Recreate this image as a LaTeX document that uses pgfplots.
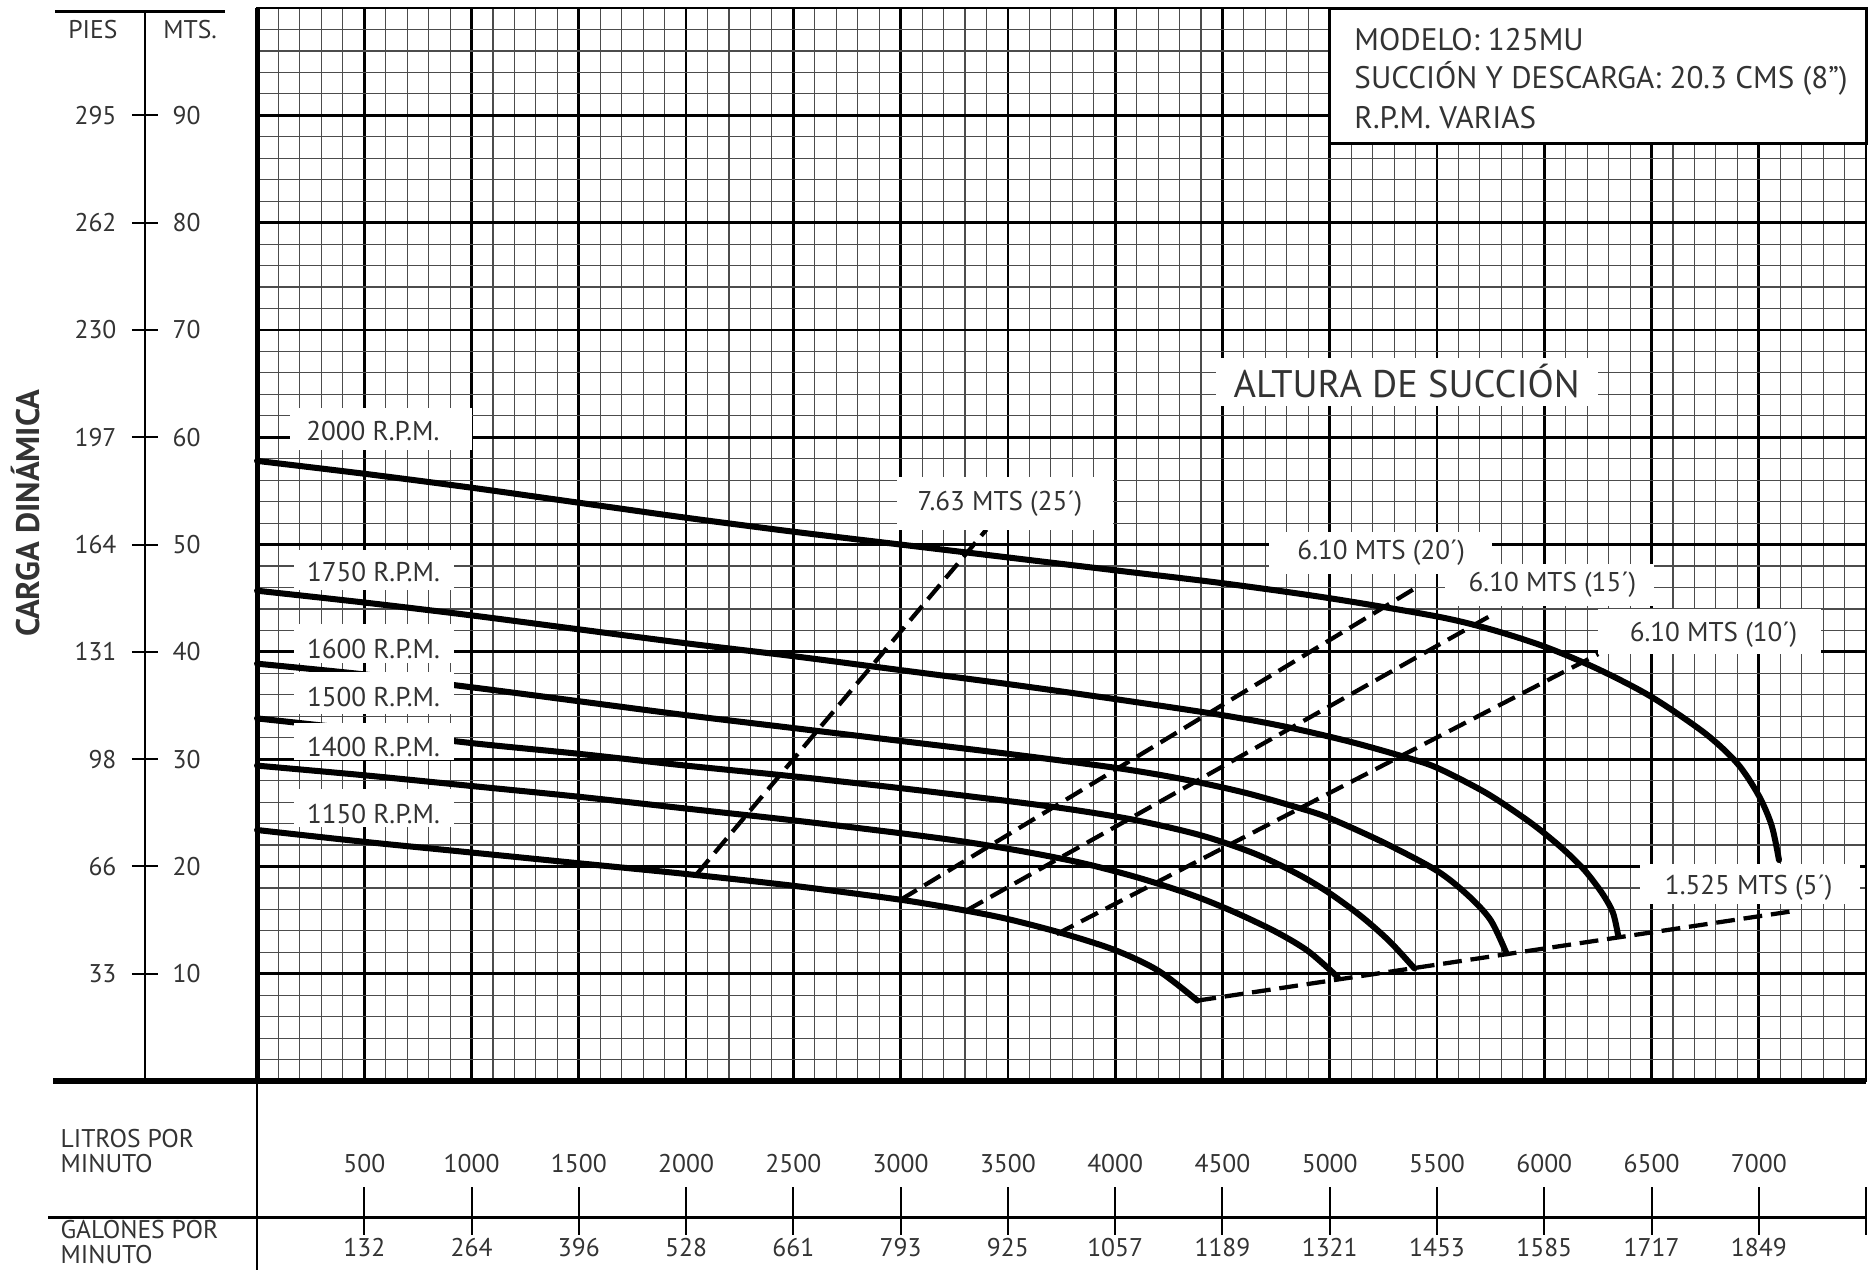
\documentclass[border=0pt]{standalone}
\usepackage{fontspec}
\setmainfont{PT Sans}
\usepackage{pgfplots}
\pgfplotsset{compat=1.18}

\definecolor{txt}{HTML}{333333}
\newcommand\lbl{\fontsize{10.2}{11}\selectfont}
\newcommand\rpm{\fontsize{10.8}{11}\selectfont}
\newcommand\dos{\fontsize{10.2}{10.2}\selectfont}
\tikzset{
  curva/.style={black, line width=2.4pt, smooth, tension=0.5, line cap=round, line join=round},
  succion/.style={black, line width=1.7pt, dash pattern=on 7.5pt off 3.5pt},
  caja/.style={fill=white, draw=none},
  rot/.style={text=txt, font=\lbl, inner sep=0pt},
}

\begin{document}
\begin{tikzpicture}
\begin{axis}[
  width=22.526cm, height=15.022cm, scale only axis,
  xmin=0, xmax=7500, ymin=0, ymax=100,
  xtick={0,500,...,7500}, ytick={0,10,...,100},
  minor x tick num=4, minor y tick num=4,
  xticklabels={}, yticklabels={},
  major tick length=0pt, minor tick length=0pt,
  grid=both,
  major grid style={black, line width=1.1pt},
  minor grid style={black!70, line width=0.45pt},
  axis line style={black, line width=1.1pt},
  clip=false,
]

% curvas de RPM (L/min, m)
\addplot[curva] coordinates {
  (0,57.8) (500,56.6) (1000,55.3) (1500,53.9) (2000,52.5) (2500,51.2)
  (3000,50.0) (3500,48.8) (4000,47.6) (4500,46.4) (5000,45.0) (5500,43.3)
  (5750,42.1) (6000,40.5) (6250,38.4) (6500,35.8) (6750,32.4) (6900,29.6)
  (7000,26.6) (7060,23.8) (7094,20.6)};
\addplot[curva] coordinates {
  (0,45.7) (500,44.6) (1000,43.4) (1500,42.1) (2000,40.8) (2500,39.6)
  (3000,38.3) (3500,37.0) (4000,35.6) (4500,34.1) (4800,33.0) (5100,31.6)
  (5350,30.2) (5500,29.2) (5725,26.9) (5900,24.6) (6000,23.1) (6100,21.4)
  (6190,19.6) (6270,17.5) (6320,15.7) (6344,13.6)};
\addplot[curva] coordinates {
  (0,38.9) (500,37.9) (1000,36.7) (1500,35.4) (2000,34.1) (2500,32.9)
  (3000,31.7) (3500,30.5) (4000,29.2) (4300,28.2) (4600,26.9) (4866,25.4)
  (5000,24.5) (5255,22.2) (5500,19.6) (5645,17.3) (5750,15.0) (5824,11.9)};
\addplot[curva] coordinates {
  (0,33.8) (500,32.7) (1000,31.5) (1500,30.5) (2000,29.4) (2500,28.4)
  (3000,27.3) (3500,26.1) (3800,25.3) (4100,24.3) (4400,22.9) (4650,21.2)
  (4850,19.3) (5000,17.5) (5150,15.3) (5280,13.0) (5395,10.5)};
\addplot[curva] coordinates {
  (0,29.4) (500,28.5) (1000,27.5) (1500,26.5) (2000,25.4) (2500,24.3)
  (3000,23.1) (3300,22.3) (3600,21.3) (3850,20.3) (4100,19.0) (4350,17.4)
  (4550,15.8) (4750,13.9) (4900,12.1) (5037,9.7)};
\addplot[curva] coordinates {
  (0,23.4) (500,22.3) (1000,21.3) (1500,20.3) (2000,19.3) (2500,18.2)
  (3000,16.9) (3300,15.9) (3500,15.1) (3750,13.8) (4000,12.2) (4200,10.3)
  (4383,7.5)};

% alturas de succion
\addplot[succion] coordinates {(2050,19.3) (3400,51.4)};
\addplot[succion] coordinates {(3000,16.9) (5396,45.9)};
\addplot[succion] coordinates {(3307,15.9) (5770,43.6)};
\addplot[succion] coordinates {(3727,13.7) (6252,39.8)};
\addplot[succion] coordinates {(4383,7.5) (7180,15.9)};

% etiquetas de RPM
\fill[caja] (axis cs:154,58.8) rectangle (axis cs:1002,62.7);
\fill[caja] (axis cs:171,45.8) rectangle (axis cs:916,49.5);
\fill[caja] (axis cs:171,39.0) rectangle (axis cs:916,42.6);
\fill[caja] (axis cs:171,34.2) rectangle (axis cs:916,38.1);
\fill[caja] (axis cs:171,29.9) rectangle (axis cs:916,33.4);
\fill[caja] (axis cs:171,23.7) rectangle (axis cs:916,27.2);
\node[rot, font=\rpm] at (axis cs:540,60.6) {2000 R.P.M.};
\node[rot, font=\rpm] at (axis cs:543,47.4) {1750 R.P.M.};
\node[rot, font=\rpm] at (axis cs:543,40.3) {1600 R.P.M.};
\node[rot, font=\rpm] at (axis cs:543,35.8) {1500 R.P.M.};
\node[rot, font=\rpm] at (axis cs:543,31.1) {1400 R.P.M.};
\node[rot, font=\rpm] at (axis cs:543,24.9) {1150 R.P.M.};

% etiquetas de succion
\fill[caja] (axis cs:2985,51.4) rectangle (axis cs:3990,56.3);
\fill[caja] (axis cs:4718,47.3) rectangle (axis cs:5754,51.2);
\fill[caja] (axis cs:5537,44.3) rectangle (axis cs:6511,48.2);
\fill[caja] (axis cs:6250,39.8) rectangle (axis cs:7290,44.0);
\fill[caja] (axis cs:6445,16.5) rectangle (axis cs:7470,20.2);
\fill[caja] (axis cs:4469,62.9) rectangle (axis cs:6249,67.4);
\node[rot, font=\rpm] at (axis cs:3463,53.8) {7.63 MTS (25´)};
\node[rot, font=\rpm] at (axis cs:5240,49.2) {6.10 MTS (20´)};
\node[rot, font=\rpm] at (axis cs:6038,46.3) {6.10 MTS (15´)};
\node[rot, font=\rpm] at (axis cs:6789,41.6) {6.10 MTS (10´)};
\node[rot, font=\rpm] at (axis cs:6953,18.0) {1.525 MTS (5´)};
\node[rot, font=\fontsize{15.3}{16}\selectfont] at (axis cs:5359,65.2) {ALTURA DE SUCCIÓN};

% recuadro del modelo
\filldraw[fill=white, draw=black, line width=1.2pt] (axis cs:5000,87.4) rectangle (axis cs:7500,100);
\node[rot, anchor=west, font=\fontsize{12.4}{13}\selectfont] at (axis cs:5113,97.1) {MODELO: 125MU};
\node[rot, anchor=west, font=\fontsize{12.4}{13}\selectfont] at (axis cs:5113,93.4) {SUCCIÓN Y DESCARGA: 20.3 CMS (8”)};
\node[rot, anchor=west, font=\fontsize{12.4}{13}\selectfont] at (axis cs:5113,89.8) {R.P.M. VARIAS};

% ejes gruesos
\draw[line width=2.2pt] (axis cs:-950,0) -- (axis cs:7500,0);
\draw[line width=2pt] (axis cs:0,0) -- (axis cs:0,100);

% escala vertical PIES / MTS
\draw[line width=1.2pt] (axis cs:-941,99.7) -- (axis cs:-149,99.7);
\draw[line width=0.8pt] (axis cs:-522,99.7) -- (axis cs:-522,0);
\pgfplotsinvokeforeach{10,20,...,90}{
  \draw[line width=0.8pt] (axis cs:-583,#1) -- (axis cs:-461,#1);
  \node[rot, anchor=west] at (axis cs:-396,#1) {#1};
}
\node[rot] at (axis cs:-765,98.0) {PIES};
\node[rot] at (axis cs:-312,98.0) {MTS.};
\node[rot, anchor=east] at (axis cs:-653,10) {33};
\node[rot, anchor=east] at (axis cs:-653,20) {66};
\node[rot, anchor=east] at (axis cs:-653,30) {98};
\node[rot, anchor=east] at (axis cs:-653,40) {131};
\node[rot, anchor=east] at (axis cs:-653,50) {164};
\node[rot, anchor=east] at (axis cs:-653,60) {197};
\node[rot, anchor=east] at (axis cs:-653,70) {230};
\node[rot, anchor=east] at (axis cs:-653,80) {262};
\node[rot, anchor=east] at (axis cs:-653,90) {295};
\node[rot, rotate=90, font=\bfseries\fontsize{13}{14}\selectfont] at (axis cs:-1077,52.9) {CARGA DINÁMICA};

% escala horizontal LITROS / GALONES
\draw[line width=0.8pt] (axis cs:0,0) -- (axis cs:0,-17.6);
\draw[line width=1pt] (axis cs:-974,-12.7) -- (axis cs:7500,-12.7);
\pgfplotsinvokeforeach{500,1000,...,7500}{
  \draw[line width=0.8pt] (axis cs:#1,-9.9) -- (axis cs:#1,-14.35);
}
\pgfplotsinvokeforeach{500,1000,...,7000}{
  \node[rot] at (axis cs:#1,-7.64) {#1};
}
\node[rot] at (axis cs:500,-15.5) {132};
\node[rot] at (axis cs:1000,-15.5) {264};
\node[rot] at (axis cs:1500,-15.5) {396};
\node[rot] at (axis cs:2000,-15.5) {528};
\node[rot] at (axis cs:2500,-15.5) {661};
\node[rot] at (axis cs:3000,-15.5) {793};
\node[rot] at (axis cs:3500,-15.5) {925};
\node[rot] at (axis cs:4000,-15.5) {1057};
\node[rot] at (axis cs:4500,-15.5) {1189};
\node[rot] at (axis cs:5000,-15.5) {1321};
\node[rot] at (axis cs:5500,-15.5) {1453};
\node[rot] at (axis cs:6000,-15.5) {1585};
\node[rot] at (axis cs:6500,-15.5) {1717};
\node[rot] at (axis cs:7000,-15.5) {1849};
\node[rot, font=\dos, anchor=west, align=left] at (axis cs:-918,-6.5) {LITROS POR\\MINUTO};
\node[rot, font=\dos, anchor=west, align=left] at (axis cs:-918,-15.0) {GALONES POR\\MINUTO};

\coordinate (bbsw) at (axis cs:-1198,-17.6);
\coordinate (bbne) at (axis cs:7523,100.75);
\end{axis}
\pgfresetboundingbox
\useasboundingbox (bbsw) rectangle (bbne);
\end{tikzpicture}
\end{document}
